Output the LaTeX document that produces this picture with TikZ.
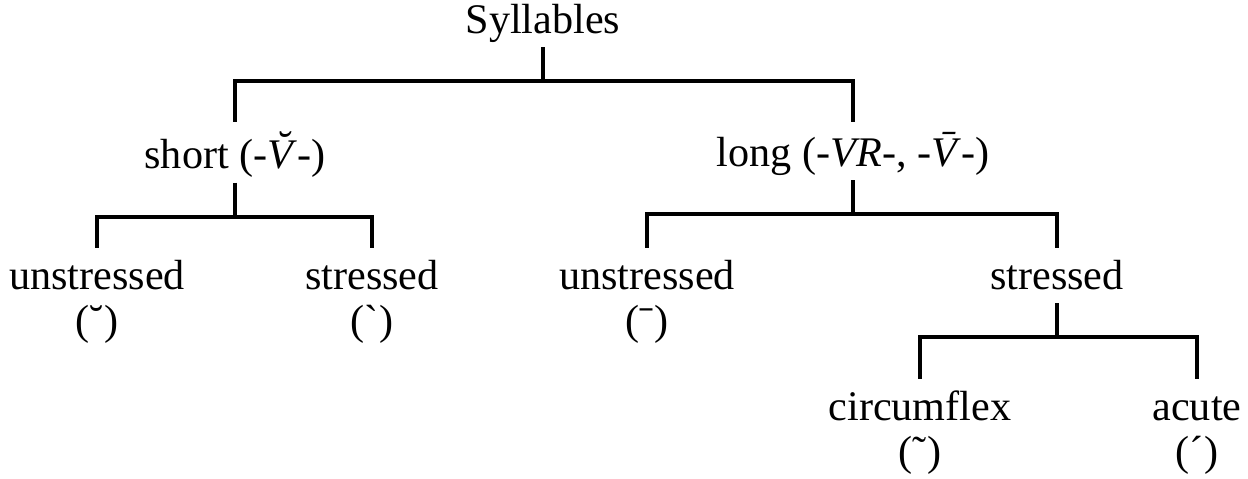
\documentclass[tikz,border=0pt]{standalone}
\usepackage{fontspec}
\setmainfont{Liberation Serif}[Ligatures=TeXOff]
\usepackage{tikz}
\usetikzlibrary{positioning,calc}

\begin{document}
\begin{tikzpicture}[
  x=0.02cm, y=0.02cm,
  lbl/.style={anchor=north, align=center, inner sep=0pt, font=\fontsize{24}{25.6}\selectfont},
  br/.style={line width=2.2pt, shorten >=0.19cm}
]
\useasboundingbox (0,0) rectangle (1248,-478);
\node[lbl] (syl) at (543,-1.5) {\strut Syllables};
\node[lbl] (short) at (235,-131.5) {\strut short (-\textit{\accent"02D8 V}-)};
\node[lbl] (long) at (853,-131.5) {\strut long (-\textit{VR}-, -\textit{\accent"02C9 V}-)};
\node[lbl] (sunstr) at (97,-257.5) {\strut unstressed\\(˘)};
\node[lbl] (sstr) at (372,-257.5) {\strut stressed\\(`)};
\node[lbl] (lunstr) at (647,-257.5) {\strut unstressed\\(ˉ)};
\node[lbl] (lstr) at (1057,-257.5) {\strut stressed};
\node[lbl] (circ) at (920,-388.5) {\strut circumflex\\(˜)};
\node[lbl] (acute) at (1197,-388.5) {\strut acute\\(´)};
\draw[br] (syl.south) -- ++(0,-34) -| (short.north);
\draw[br] (syl.south) -- ++(0,-34) -| (long.north);
\draw[br] (short.south) -- ++(0,-34) -| (sunstr.north);
\draw[br] (short.south) -- ++(0,-34) -| (sstr.north);
\draw[br] (long.south) -- ++(0,-34) -| (lunstr.north);
\draw[br] (long.south) -- ++(0,-34) -| (lstr.north);
\draw[br] (lstr.south) -- ++(0,-34) -| (circ.north);
\draw[br] (lstr.south) -- ++(0,-34) -| (acute.north);
\end{tikzpicture}
\end{document}
